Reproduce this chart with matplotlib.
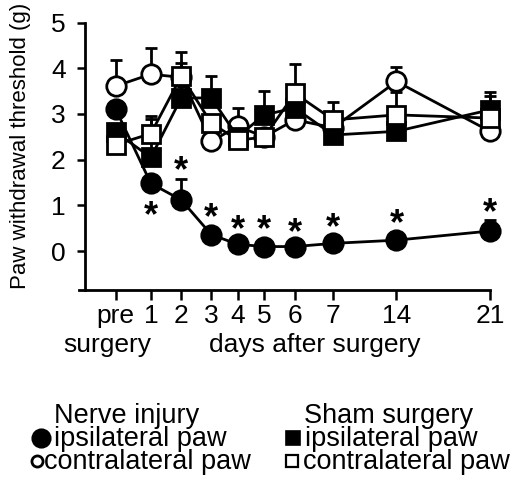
import numpy as np
import matplotlib.pyplot as plt
from matplotlib.lines import Line2D

plt.rcParams['font.family'] = ['Liberation Sans', 'DejaVu Sans']

# time points (x positions follow the uneven spacing of the original axis)
labels = ['pre', '1', '2', '3', '4', '5', '6', '7', '14', '21']
x_pos = [0, 35, 65.3, 95.3, 121.6, 148, 178.6, 217, 280, 373.3]

# nerve injury
nerve_ipsi = [3.10, 1.48, 1.12, 0.36, 0.15, 0.10, 0.10, 0.17, 0.24, 0.44]
nerve_ipsi_err = [0, 0, 0.45, 0, 0, 0, 0, 0, 0, 0.24]
nerve_contra = [3.61, 3.87, 3.80, 2.40, 2.73, 2.50, 2.87, 2.70, 3.71, 2.62]
nerve_contra_err = [0.57, 0.58, 0.32, 0, 0.41, 0, 0, 0, 0.32, 0]

# sham surgery
sham_ipsi = [2.60, 2.05, 3.35, 3.35, 2.50, 2.98, 3.13, 2.54, 2.62, 3.09]
sham_ipsi_err = [0, 0.83, 0.35, 0.47, 0, 0.52, 0, 0, 0, 0.30]
sham_contra = [2.33, 2.57, 3.83, 2.80, 2.43, 2.49, 3.45, 2.87, 2.98, 2.91]
sham_contra_err = [0, 0.38, 0.52, 0, 0, 0, 0.64, 0.39, 0.50, 0.57]

# significance marks (y of the asterisk centre)
star_idx = [1, 2, 3, 4, 5, 6, 7, 8, 9]
star_y = [0.94, 1.93, 0.91, 0.65, 0.65, 0.58, 0.69, 0.78, 1.02]

W, H = 520, 487
fig = plt.figure(figsize=(W / 100, H / 100), dpi=100)

def fx(px):
    return px / W

def fy(py):
    return 1 - py / H

ax = fig.add_axes([fx(79), fy(290), fx(490) - fx(79), fy(22.5) - fy(290)])

x = np.array(x_pos)

series = [
    (nerve_ipsi, nerve_ipsi_err, 'o', 'k', 14),
    (nerve_contra, nerve_contra_err, 'o', 'w', 14),
    (sham_ipsi, sham_ipsi_err, 's', 'k', 12.5),
    (sham_contra, sham_contra_err, 's', 'w', 12.5),
]

for vals, err, m, fc, ms in series:
    err = np.array(err)
    ax.errorbar(x, vals, yerr=[np.zeros_like(err), err], fmt='none',
                ecolor='k', elinewidth=2, capsize=4.5, capthick=2,
                clip_on=False, zorder=2)

z = 3
for vals, err, m, fc, ms in series:
    ax.plot(x, vals, '-', color='k', lw=2, marker=m, ms=ms, mfc=fc,
            mec='k', mew=2, clip_on=False, zorder=z)
    z += 1

for i, sy in zip(star_idx, star_y):
    ax.text(x[i], sy - 0.40, '*', ha='center', va='baseline',
            fontsize=26, fontweight='bold', zorder=10)

ax.set_xlim(-36.7, 373.3)
ax.set_ylim(-0.85, 5)
ax.spines['top'].set_visible(False)
ax.spines['right'].set_visible(False)
ax.spines['left'].set_position(('data', -30.7))
for s in ['left', 'bottom']:
    ax.spines[s].set_linewidth(2)

ax.set_yticks([0, 1, 2, 3, 4, 5])
ax.set_xticks(x)
ax.set_xticklabels(labels)
ax.tick_params(axis='y', length=6, width=1.8, labelsize=19, pad=8)
ax.tick_params(axis='x', length=7, width=1.8, labelsize=19, pad=3)
ax.get_xticklabels()[0].set_x(-8)

fig.text(fx(21), fy(146), 'Paw withdrawal threshold (g)', rotation=90,
         ha='center', va='center', fontsize=16)
fig.text(fx(107), fy(352), 'surgery', ha='center', va='baseline', fontsize=19)
fig.text(fx(315), fy(352), 'days after surgery', ha='center', va='baseline',
         fontsize=19)

# legend
fs = 19.5
fig.text(fx(127), fy(423), 'Nerve injury', ha='center', va='baseline', fontsize=fs)
fig.text(fx(389), fy(423), 'Sham surgery', ha='center', va='baseline', fontsize=fs)
fig.text(fx(54), fy(446), 'ipsilateral paw', ha='left', va='baseline', fontsize=fs)
fig.text(fx(44), fy(469), 'contralateral paw', ha='left', va='baseline', fontsize=fs)
fig.text(fx(305), fy(446), 'ipsilateral paw', ha='left', va='baseline', fontsize=fs)
fig.text(fx(303), fy(469), 'contralateral paw', ha='left', va='baseline', fontsize=fs)

for cx, cy, m, fc, ms, mew in [(41, 438, 'o', 'k', 13, 1.5),
                               (37, 461, 'o', 'w', 8, 2),
                               (293, 438, 's', 'k', 10, 1.2),
                               (292, 461, 's', 'w', 8.5, 1.6)]:
    fig.add_artist(Line2D([fx(cx)], [fy(cy)], marker=m, ms=ms, mfc=fc,
                          mec='k', mew=mew, transform=fig.transFigure))

fig.savefig('out.png', dpi=100)
